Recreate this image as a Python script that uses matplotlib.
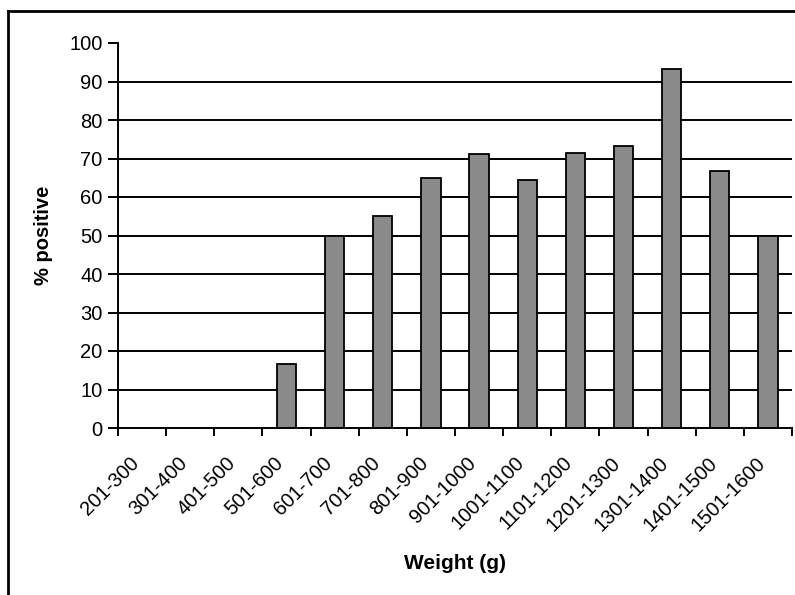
import numpy as np
import matplotlib
matplotlib.use("Agg")
import matplotlib.pyplot as plt
from matplotlib.lines import Line2D

plt.rcParams['font.family'] = ['Liberation Sans', 'DejaVu Sans']

categories = ["201-300", "301-400", "401-500", "501-600", "601-700", "701-800",
              "801-900", "901-1000", "1001-1100", "1101-1200", "1201-1300",
              "1301-1400", "1401-1500", "1501-1600"]
pct_positive = [0, 0, 0, 16.7, 50, 55, 65, 71.1, 64.4, 71.4, 73.3, 93.3, 66.7, 50]
y_ticks = list(range(0, 101, 10))

fig = plt.figure(figsize=(7.95, 5.95), dpi=100)
ax = fig.add_axes([118 / 795, 1 - 428 / 595, (792 - 118) / 795, (428 - 43) / 595])

x = np.arange(len(categories))
# gridlines first so bars sit on top
for v in y_ticks[1:-1]:
    ax.axhline(v, color='black', lw=1.4, zorder=1)
ax.bar(x, pct_positive, width=0.4, color='#8a8a8a', edgecolor='black',
       linewidth=1.3, zorder=2)

ax.set_xlim(-0.5, len(categories) - 0.5)
ax.set_ylim(0, 100)
ax.set_yticks(y_ticks)
ax.set_yticklabels([str(v) for v in y_ticks], fontsize=14.5)

# rotated labels end a little left of the category centre, like excel does
ax.set_xticks(x - 0.12)
ax.set_xticklabels(categories, fontsize=14.5, rotation=45, ha='right',
                   va='center', rotation_mode='anchor')
ax.set_xticks(np.arange(len(categories) + 1) - 0.5, minor=True)
ax.tick_params(axis='x', which='major', length=0, pad=23)
ax.tick_params(axis='x', which='minor', length=6, width=1.4, direction='out')
ax.tick_params(axis='y', length=7, width=1.4, direction='out', pad=4)

for s in ['top', 'right']:
    ax.spines[s].set_visible(False)
for s in ['left', 'bottom']:
    ax.spines[s].set_linewidth(1.4)

ax.set_ylabel('% positive', fontsize=14.5, fontweight='bold', labelpad=12)
ax.set_xlabel('Weight (g)', fontsize=15, fontweight='bold', labelpad=14)

# outer frame (only top and left visible in the crop)
fig.add_artist(Line2D([8 / 795, 1.0], [1 - 11 / 595, 1 - 11 / 595],
                      transform=fig.transFigure, color='black', lw=2))
fig.add_artist(Line2D([8 / 795, 8 / 795], [0, 1 - 11 / 595],
                      transform=fig.transFigure, color='black', lw=2))

fig.savefig('out.png', dpi=100)
